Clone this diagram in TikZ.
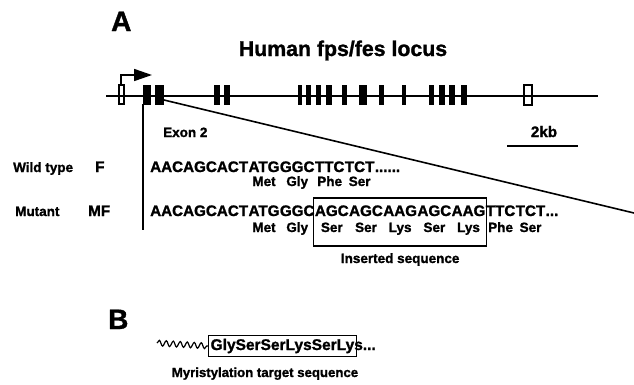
\documentclass[tikz,border=0pt]{standalone}
\usepackage{fontspec}
\setmainfont{Liberation Sans}[BoldFeatures={FakeBold=1.3}]
\usetikzlibrary{calc,decorations.pathmorphing,arrows.meta}
\begin{document}
\begin{tikzpicture}[x=1pt,y=-1pt,
  seq/.style={anchor=base west, inner sep=0pt, font=\fontsize{15.2}{18}\selectfont\bfseries},
  aa/.style={anchor=base, inner sep=0pt, font=\fontsize{13.5}{16}\selectfont\bfseries},
  lbl/.style={anchor=base west, inner sep=0pt, font=\fontsize{13.5}{16}\selectfont\bfseries},
  biglbl/.style={anchor=base west, inner sep=0pt, font=\fontsize{15.2}{18}\selectfont\bfseries},
  panel/.style={anchor=base west, inner sep=0pt, font=\fontsize{28}{32}\selectfont\bfseries},
  exon/.style={fill=black},
  openexon/.style={draw=black, line width=1.3pt}]
\useasboundingbox (0,0) rectangle (634,384);

% ---------- panel A ----------
\node[panel] (A) at (111,31) {A};
\node[anchor=base, inner sep=0pt, font=\fontsize{21.3}{24}\selectfont\bfseries] (title) at (343,56) {Human fps/fes locus};

% gene line with exons
\coordinate (gl) at (106,96);
\coordinate (gr) at (598,96);
\foreach \a/\b in {143/151,155/164,214/220,224/230,298/302,306/311,316/321,326/332,
                   342/347,359/367,379/384,402/406,429/434,439/445,449/455,461/467}
  \fill[exon] (\a,85) rectangle (\b,105);
\draw[openexon] (119,85) rectangle (124,104);
\draw[openexon] (524,85) rectangle (532,105);
\draw[line width=2.8pt] (gl) -- (gr);

% transcription start arrow
\coordinate (ts0) at (121,86);
\coordinate (ts1) at (121,75);
\coordinate (ts2) at (152,75);
\draw[line width=1.6pt, -{Triangle[length=18pt,width=12pt]}] (ts0) -- (ts1) -- (ts2);

% expansion of exon 2
\coordinate (ex2b) at (143,104);
\coordinate (ex2c) at (143,230);
\coordinate (ex2d) at (164,100);
\coordinate (ex2e) at (634,213);
\draw[line width=1.4pt] (ex2b) -- (ex2c);
\draw[line width=1.6pt] (ex2d) -- (ex2e);

\node[lbl] (exon2) at (163,137) {Exon 2};
\node[anchor=base, inner sep=0pt, font=\fontsize{15.2}{18}\selectfont\bfseries] (kb) at (544,137) {2kb};
\coordinate (kbl) at (507,146);
\coordinate (kbr) at (578,146);
\draw[line width=1.6pt] (kbl) -- (kbr);

% wild type
\node[lbl] (wt) at (13,172) {Wild type};
\node[biglbl] (wtF) at (95,172) {F};
\node[seq] (w0) at (150,172) {AACAGCACT};
\node[seq] (w1) at (w0.base east) {ATG};
\node[seq] (w2) at (w1.base east) {GGC};
\node[seq] (w3) at (w2.base east) {TTC};
\node[seq] (w4) at (w3.base east) {TCT};
\node[seq] (w5) at (w4.base east) {......};
\node[aa] (wa1) at ($(w1.base)+(0,14)$) {Met};
\node[aa] (wa2) at ($(w2.base)+(0,14)$) {Gly};
\node[aa] (wa3) at ($(w3.base)+(0,14)$) {Phe};
\node[aa] (wa4) at ($(w4.base)+(0,14)$) {Ser};

% mutant
\node[lbl] (mt) at (15,216) {Mutant};
\node[biglbl] (mtF) at (88,216) {MF};
\node[seq] (m0) at (150,216) {AACAGCACT};
\node[seq] (m1) at (m0.base east) {ATG};
\node[seq] (m2) at (m1.base east) {GGC};
\node[seq] (m3) at (m2.base east) {AGC};
\node[seq] (m4) at (m3.base east) {AGC};
\node[seq] (m5) at (m4.base east) {AAG};
\node[seq] (m6) at (m5.base east) {AGC};
\node[seq] (m7) at (m6.base east) {AAG};
\node[seq] (m8) at (m7.base east) {TTC};
\node[seq] (m9) at (m8.base east) {TCT};
\node[seq] (m10) at (m9.base east) {...};
\foreach \c/\p in {1/Met,2/Gly,3/Ser,4/Ser,5/Lys,6/Ser,7/Lys,8/Phe,9/Ser}
  \node[aa] (ma\c) at ($(m\c.base)+(0,16)$) {\p};
\draw[line width=1.3pt] ($(m3.base west)+(-1,-18)$) rectangle ($(m7.base east)+(1,30)$);
\node[anchor=base, inner sep=0pt, font=\fontsize{13.5}{16}\selectfont\bfseries] (ins) at ($(m5.base)+(0,47)$) {Inserted sequence};

% ---------- panel B ----------
\node[panel] (B) at (108,329) {B};
\node[anchor=base west, inner xsep=2pt, inner ysep=3pt, draw, line width=1.3pt,
      font=\fontsize{15.5}{18}\selectfont\bfseries] (myr) at (208,350) {GlySerSerLysSerLy\rlap{s...}};
\coordinate (sq0) at (157,343);
\draw[line width=1.2pt, decorate, decoration={snake, segment length=7pt, amplitude=2.8pt}]
  (sq0) -- (myr.west);
\node[anchor=base, inner sep=0pt, font=\fontsize{13.2}{16}\selectfont\bfseries] (myrl) at (265,377) {Myristylation target sequence};
\end{tikzpicture}
\end{document}
